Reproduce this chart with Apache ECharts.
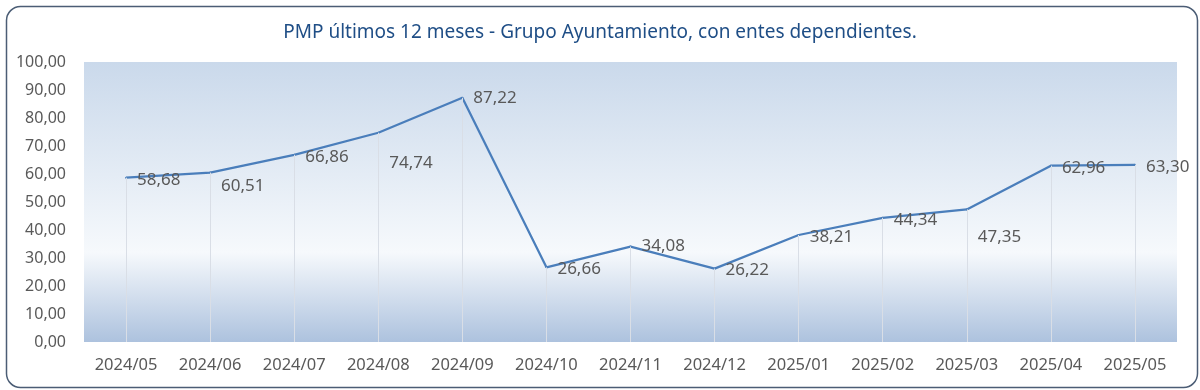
<!DOCTYPE html>
<html><head><meta charset="utf-8">
<script src="https://cdn.jsdelivr.net/npm/echarts@6/dist/echarts.min.js"></script>
<style>html,body{margin:0;padding:0;background:#fff}#c{width:1200px;height:390px}</style>
</head><body><div id="c"></div>
<script>
const titleText = 'PMP últimos 12 meses - Grupo Ayuntamiento, con entes dependientes.';
const categories = ['2024/05','2024/06','2024/07','2024/08','2024/09','2024/10','2024/11','2024/12','2025/01','2025/02','2025/03','2025/04','2025/05'];
const pmpValues = [58.68, 60.51, 66.86, 74.74, 87.22, 26.66, 34.08, 26.22, 38.21, 44.34, 47.35, 62.96, 63.30];
const yTicks = {min: 0, max: 100, interval: 10};
const labelDrop = {1: 12, 3: 28, 4: -2, 6: -2, 10: 26};

const fmt = v => Number(v).toFixed(2).replace('.', ',');
const font = '"Noto Sans", "Open Sans", sans-serif';

const chart = echarts.init(document.getElementById('c'), null, {renderer: 'canvas'});
chart.setOption({
  animation: false,
  title: {
    text: titleText, left: 'center', top: 18,
    textStyle: {color: '#1f4e86', fontSize: 19, fontWeight: 'normal', fontFamily: font}
  },
  graphic: [{
    type: 'rect', left: 4, top: 4, z: -1,
    shape: {width: 1191, height: 381, r: 14},
    style: {fill: 'none', stroke: '#4b5d75', lineWidth: 1.5}
  }],
  grid: {
    left: 84, right: 23, top: 62, bottom: 48, show: true, borderWidth: 0,
    backgroundColor: {type: 'linear', x: 0, y: 0, x2: 0, y2: 1, colorStops: [
      {offset: 0, color: '#cad9eb'}, {offset: 0.68, color: '#f6f9fc'}, {offset: 1, color: '#adc2de'}
    ]}
  },
  xAxis: {
    type: 'category', data: categories, boundaryGap: true,
    axisLine: {show: false}, axisTick: {show: false}, splitLine: {show: false},
    axisLabel: {color: '#595959', fontSize: 16.5, fontFamily: font, margin: 15}
  },
  yAxis: {
    type: 'value', min: yTicks.min, max: yTicks.max, interval: yTicks.interval,
    axisLine: {show: false}, axisTick: {show: false}, splitLine: {show: false},
    axisLabel: {color: '#595959', fontSize: 16, fontFamily: font, margin: 18, formatter: fmt}
  },
  series: [{
    type: 'line', data: pmpValues.map((v, i) => ({
      value: v,
      label: {show: true, position: [12, 3 + (labelDrop[i] || 0)]}
    })),
    symbol: 'circle', symbolSize: 2, showSymbol: true,
    lineStyle: {color: '#4a7ebb', width: 2.25},
    itemStyle: {color: '#4a7ebb'},
    label: {show: true, position: [12, 3], align: 'left', verticalAlign: 'middle',
      color: '#595959', fontSize: 17, fontFamily: font,
      formatter: p => fmt(p.value)},
    labelLayout: {hideOverlap: false},
    markLine: {
      silent: true, symbol: 'none', animation: false,
      lineStyle: {color: '#d9dee6', width: 1, type: 'solid'},
      label: {show: false},
      data: pmpValues.map((v, i) => [{coord: [i, 0]}, {coord: [i, v]}])
    },
    z: 3
  }]
});
</script></body></html>
